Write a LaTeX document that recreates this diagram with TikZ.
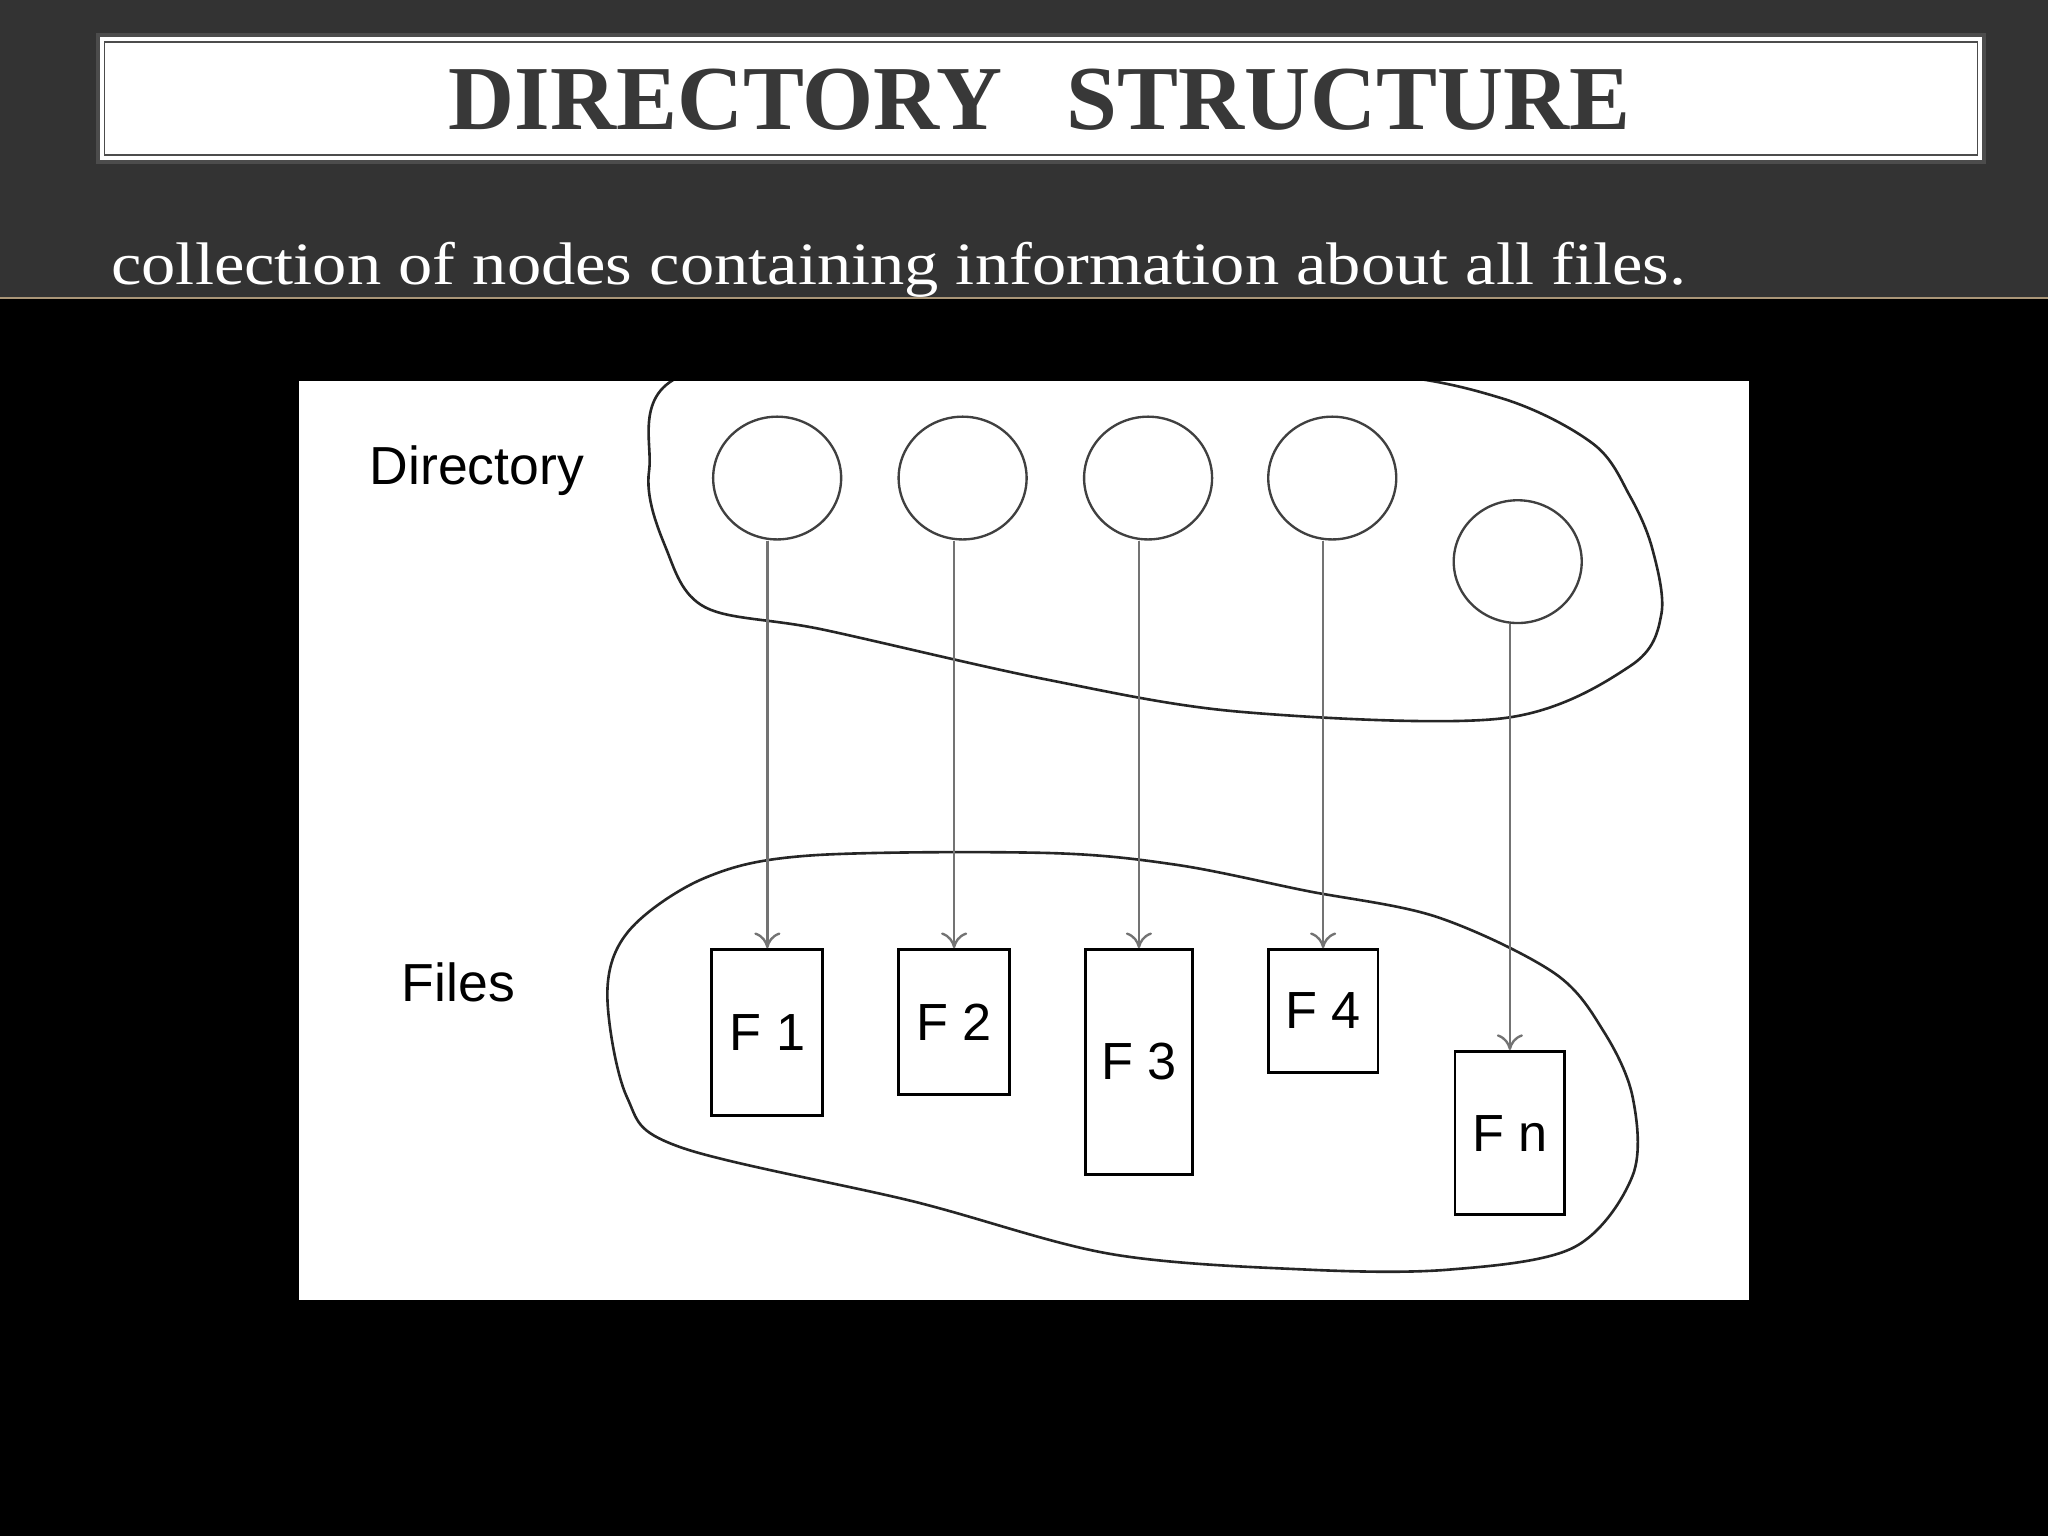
\documentclass[tikz,border=0pt]{standalone}
\usepackage{fontspec}
\setmainfont{Liberation Serif}
\setsansfont{Liberation Sans}
\usetikzlibrary{arrows.meta,shapes.geometric}
\tikzset{
  dirc/.style={draw=black!75,line width=1.8pt,ellipse,minimum width=98pt,minimum height=94pt,inner sep=0pt},
  fbox/.style={draw=black,line width=2.2pt,inner sep=0pt,font=\sffamily\fontsize{40}{40}\selectfont},
  link/.style={draw=black!55,line width=1.8pt,-{To[length=12pt,width=20pt,line width=1.8pt]}},
  blob/.style={draw=black!85,line width=2pt},
}
\begin{document}
\begin{tikzpicture}[x=1pt,y=-1pt]
\useasboundingbox (0,0) rectangle (1568,1176);
\fill[black] (0,0) rectangle (1568,1176);
\fill[black!80] (0,0) rectangle (1568,228);
\draw[color={rgb,255:red,170;green,150;blue,120},line width=1.5pt] (0,228) -- (1568,228);
\node[draw=black!70,fill=white,line width=3pt,minimum width=1444pt,minimum height=97pt,inner sep=0pt] (titlebox) at (797,75.5) {};
\draw[black!70,line width=1.5pt] (80,32) rectangle (1514,119);
\node[text=black!78,font=\bfseries\fontsize{70}{70}\selectfont] (title) at (796,76) {DIRECTORY\hspace{0.7em}STRUCTURE};
\node[text=white,font=\fontsize{46}{46}\selectfont,anchor=base west,inner sep=0pt,xscale=1.14] (sub) at (85,218) {collection of nodes containing information about all files.};
\fill[white] (229,292) rectangle (1339,995);
\begin{scope}
\clip (229,292) rectangle (1339,995);
\draw[blob] plot[smooth cycle,tension=0.55] coordinates {(530,285)(497,360)(510,420)(540,465)(630,482)(800,520)(950,545)(1150,550)(1248,510)(1272,470)(1265,420)(1248,380)(1220,340)(1150,305)(1040,285)(800,280)};
\draw[blob] plot[smooth cycle,tension=0.55] coordinates {(465,760)(480,840)(520,878)(700,920)(850,960)(1000,972)(1110,972)(1205,955)(1250,900)(1250,840)(1228,790)(1190,745)(1100,702)(1000,682)(900,662)(800,653)(620,655)(540,672)(482,712)};
\end{scope}
\node[font=\sffamily\fontsize{41}{41}\selectfont] (dirlab) at (365,360) {Directory};
\node[font=\sffamily\fontsize{41}{41}\selectfont] (fileslab) at (351,752) {Files};
\node[dirc] (c1) at (595,366) {};
\node[dirc] (c2) at (737,366) {};
\node[dirc] (c3) at (879,366) {};
\node[dirc] (c4) at (1020,366) {};
\node[dirc] (c5) at (1162,430) {};
\node[fbox,minimum width=85pt,minimum height=127pt] (f1) at (587.5,790.5) {F 1};
\node[fbox,minimum width=85pt,minimum height=111pt] (f2) at (730.5,782.5) {F 2};
\node[fbox,minimum width=82pt,minimum height=172pt] (f3) at (872,813) {F 3};
\node[fbox,minimum width=84pt,minimum height=94pt] (f4) at (1013,774) {F 4};
\node[fbox,minimum width=84pt,minimum height=125pt] (fn) at (1156,867.5) {F n};
\draw[link] (f1.north |- c1.south) -- (f1.north);
\draw[link] (f2.north |- c2.south) -- (f2.north);
\draw[link] (f3.north |- c3.south) -- (f3.north);
\draw[link] (f4.north |- c4.south) -- (f4.north);
\draw[link] (fn.north |- c5.south) -- (fn.north);
\end{tikzpicture}
\end{document}
